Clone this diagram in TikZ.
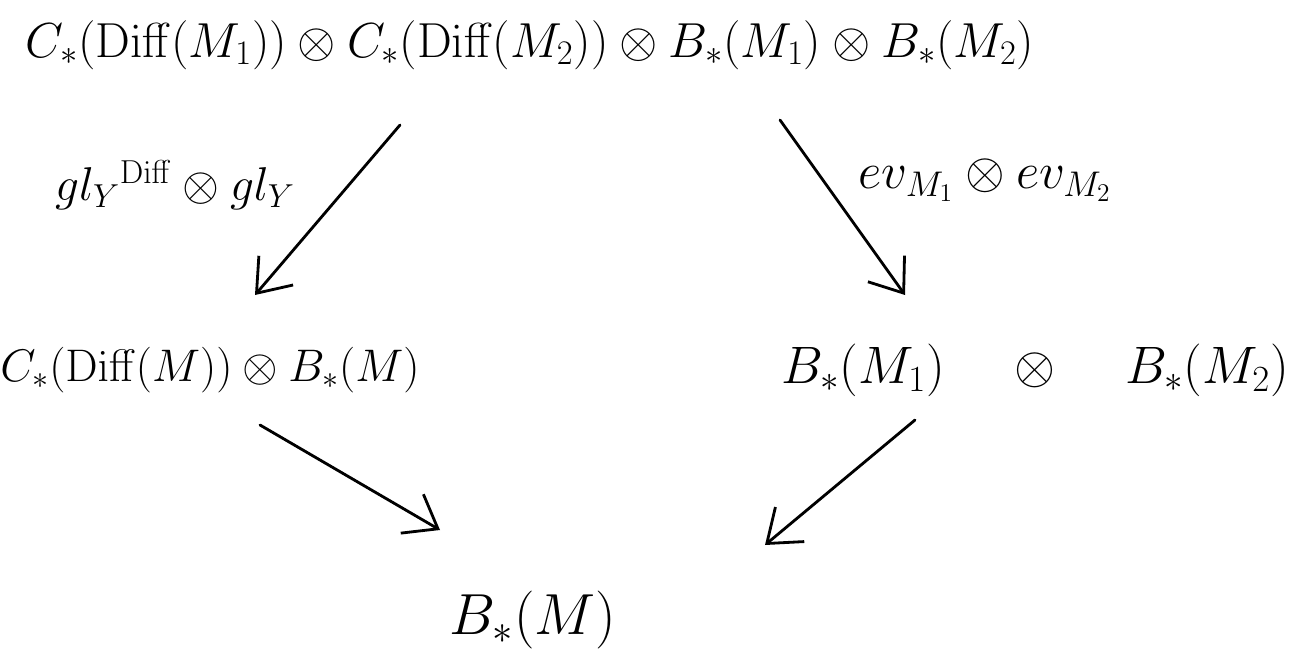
\RequirePackage{fix-cm}
\documentclass[tikz,border=0pt]{standalone}
\usepackage{amsmath}
\usetikzlibrary{arrows.meta}
\begin{document}
\begin{tikzpicture}[x=0.02cm,y=-0.02cm,
  obj/.style={inner sep=0pt, font=\fontsize{26}{31}\selectfont},
  lbl/.style={inner sep=0pt, font=\fontsize{29}{35}\selectfont},
  arr/.style={line width=1.6pt, -{Straight Barb[length=6mm,width=9mm,line width=1.6pt]}, line cap=round}]
\useasboundingbox (0,0) rectangle (1300,665);
\node[obj, font=\fontsize{28}{34}\selectfont] (top) at (530,45) {$C_*(\mathrm{Diff}(M_1))\otimes C_*(\mathrm{Diff}(M_2))\otimes B_*(M_1)\otimes B_*(M_2)$};
\node[obj] (left) at (210,370) {$C_*(\mathrm{Diff}(M))\otimes B_*(M)$};
\node[obj, font=\fontsize{30}{36}\selectfont] (right) at (1035,370) {$B_*(M_1)\hspace{33pt}\otimes\hspace{33pt} B_*(M_2)$};
\node[obj, font=\fontsize{33}{40}\selectfont] (bot) at (533,620) {$B_*(M)$};
\coordinate (a1s) at (400,125); \coordinate (a1e) at (255,295);
\coordinate (a2s) at (780,120); \coordinate (a2e) at (905,295);
\coordinate (a3s) at (260,425); \coordinate (a3e) at (440,530);
\coordinate (a4s) at (915,420); \coordinate (a4e) at (765,545);
\draw[arr] (a1s) -- (a1e);
\draw[arr] (a2s) -- (a2e);
\draw[arr] (a3s) -- (a3e);
\draw[arr] (a4s) -- (a4e);
\node[lbl, font=\fontsize{27}{32}\selectfont] (l1) at (175,185) {$gl_Y{}^{\mathrm{Diff}}\otimes gl_Y$};
\node[lbl] (l2) at (985,180) {$ev_{M_1}\otimes ev_{M_2}$};
\end{tikzpicture}
\end{document}
